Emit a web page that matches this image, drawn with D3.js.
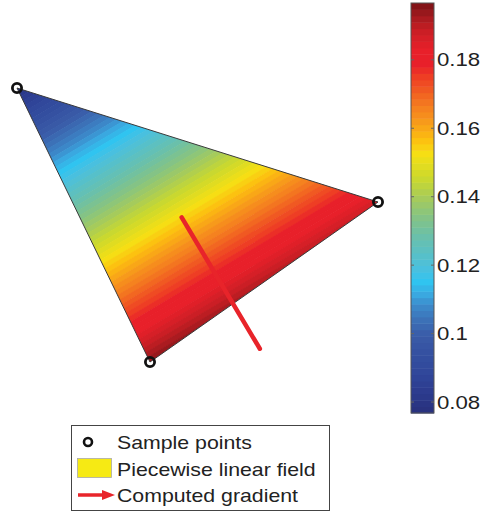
<!DOCTYPE html>
<html><head><meta charset="utf-8">
<script src="https://cdn.jsdelivr.net/npm/d3@7"></script>
<style>
html,body{margin:0;padding:0;background:#fff;}
svg{display:block;font-family:"Liberation Sans",Arial,Helvetica,sans-serif;}
</style></head>
<body>
<svg id="chart" width="483" height="516"></svg>
<script>
// ---- data ----
const sampleX = [0, 3.61, 1.33];
const sampleY = [2.74, 1.60, 0];
const sampleValue = [0.079, 0.187, 0.195];
const colorDomain = [0.0768, 0.1966];
const colorTicks = [0.08, 0.1, 0.12, 0.14, 0.16, 0.18];
const cmapValues = [0.0768,0.0822,0.0880,0.0939,0.0997,0.1041,0.1085,0.1114,0.1152,0.1187,0.1231,0.1289,0.1347,0.1400,0.1450,0.1523,0.1566,0.1625,0.1669,0.1712,0.1756,0.1785,0.1829,0.1888,0.1931,0.1966];
const cmapColors = ["#28307c","#2c3a8c","#30469a","#3450a0","#3a5ca8","#3c72b8","#3c8ccc","#3aa8e0","#30c4f0","#48c0e0","#58c0c8","#6cc0a8","#88c480","#a8cc58","#c8d830","#f5e014","#fcc010","#f7961c","#f47a20","#f05a22","#ee3a24","#e8202a","#e8202a","#c81e24","#a01a1e","#7a1216"];
const legendLabels = ["Sample points", "Piecewise linear field", "Computed gradient"];
const legendPatchColor = "#f6ea14";
const nColors = 64;
const quiverScale = 40;

const svg = d3.select("#chart");
const x = d3.scaleLinear().domain([0, 3.61]).range([17, 378]);
const y = d3.scaleLinear().domain([0, 2.74]).range([362, 88]);

const cmap = d3.scaleLinear().domain(cmapValues).range(cmapColors).interpolate(d3.interpolateRgb);
const step = (colorDomain[1]-colorDomain[0])/nColors;
const bandColors = d3.range(nColors).map(i => cmap(colorDomain[0] + (i+0.5)*step));

// ---- field geometry (pixel space) ----
const P = sampleX.map((d,i) => [x(d), y(sampleY[i])]);
function solveGrad(pts, vals){
  const ax = pts[1][0]-pts[0][0], ay = pts[1][1]-pts[0][1];
  const bx = pts[2][0]-pts[0][0], by = pts[2][1]-pts[0][1];
  const d1 = vals[1]-vals[0], d2 = vals[2]-vals[0];
  const det = ax*by - ay*bx;
  return [(d1*by - ay*d2)/det, (ax*d2 - bx*d1)/det];
}
const gp = solveGrad(P, sampleValue);
const gmag = Math.hypot(gp[0], gp[1]);
const u = [gp[0]/gmag, gp[1]/gmag];
const n = [-u[1], u[0]];
const L = 1000;
function at(l){ const t = (l - sampleValue[0])/gmag; return [P[0][0]+u[0]*t, P[0][1]+u[1]*t]; }

const defs = svg.append("defs");
defs.append("clipPath").attr("id","tri").append("polygon")
  .attr("points", P.map(p => p.join(",")).join(" "));

const field = svg.append("g").attr("clip-path","url(#tri)");
const bands = d3.range(nColors).map(i => ({lo: colorDomain[0]+i*step, hi: colorDomain[0]+(i+1)*step, c: bandColors[i]}));
const fieldBands = bands.map(d => Object.assign({}, d));
fieldBands[0].lo -= 1; fieldBands[nColors-1].hi += 1;
field.selectAll("polygon").data(fieldBands).join("polygon")
  .attr("points", d => {
    const a = at(d.lo), b = at(d.hi);
    const ov = 0.6;
    const b2 = [b[0]+u[0]*ov, b[1]+u[1]*ov];
    return [[a[0]-n[0]*L, a[1]-n[1]*L],[a[0]+n[0]*L, a[1]+n[1]*L],[b2[0]+n[0]*L, b2[1]+n[1]*L],[b2[0]-n[0]*L, b2[1]-n[1]*L]].map(p=>p.join(",")).join(" ");
  })
  .attr("fill", d => d.c);

svg.append("polygon").attr("points", P.map(p => p.join(",")).join(" "))
  .attr("fill","none").attr("stroke","#3a3a3a").attr("stroke-width",1);

// ---- gradient arrow (data space) ----
const gd = solveGrad(sampleX.map((d,i)=>[d, sampleY[i]]), sampleValue);
const cx = d3.mean(sampleX), cy = d3.mean(sampleY);
const ex = cx + quiverScale*gd[0], ey = cy + quiverScale*gd[1];
svg.append("line").attr("x1", x(cx)).attr("y1", y(cy)).attr("x2", x(ex)).attr("y2", y(ey))
  .attr("stroke","#e8242a").attr("stroke-width",4.5).attr("stroke-linecap","round");

// ---- sample points ----
svg.selectAll("circle.sp").data(sampleX).join("circle").attr("class","sp")
  .attr("cx", (d)=>x(d)).attr("cy", (d,i)=>y(sampleY[i])).attr("r",4.6)
  .attr("fill","none").attr("stroke","#111").attr("stroke-width",2.8);

// ---- colorbar ----
const cb = {x0: 411, w: 23};
const cy2 = d3.scaleLinear().domain(colorDomain).range([413, 3]);
const cbg = svg.append("g");
cbg.selectAll("rect").data(bands).join("rect")
  .attr("x", cb.x0).attr("width", cb.w)
  .attr("y", d => cy2(d.hi))
  .attr("height", d => cy2(d.lo) - cy2(d.hi) + 0.5)
  .attr("fill", d => d.c);
cbg.append("rect").attr("x", cb.x0).attr("y", 3).attr("width", cb.w).attr("height", 410)
  .attr("fill","none").attr("stroke","#555").attr("stroke-width",1);
const tk = cbg.selectAll("g.tk").data(colorTicks).join("g").attr("class","tk")
  .attr("transform", d => `translate(0,${cy2(d)})`);
tk.append("line").attr("x1", cb.x0).attr("x2", cb.x0+3).attr("stroke","#666").attr("stroke-width",1);
tk.append("line").attr("x1", cb.x0+cb.w-3).attr("x2", cb.x0+cb.w).attr("stroke","#666").attr("stroke-width",1);
tk.append("text").attr("class","cbl").attr("x", 437).attr("dy","0.36em").attr("font-size",18.5).attr("fill","#222")
  .text(d => d3.format("")(+d.toFixed(2)));

// ---- legend ----
const lg = svg.append("g");
lg.append("rect").attr("x",71.5).attr("y",425.5).attr("width",258).attr("height",85)
  .attr("fill","#fff").attr("stroke","#444").attr("stroke-width",1);
lg.append("circle").attr("cx",88).attr("cy",442).attr("r",4).attr("fill","none").attr("stroke","#111").attr("stroke-width",2.6);
lg.append("rect").attr("x",77.5).attr("y",458.5).attr("width",34).attr("height",19)
  .attr("fill", legendPatchColor).attr("stroke","#aaa").attr("stroke-width",0.8);
lg.append("line").attr("x1",78).attr("y1",495).attr("x2",105).attr("y2",495).attr("stroke","#e8242a").attr("stroke-width",3.5);
lg.append("polygon").attr("points","102,490 115,495 102,500").attr("fill","#e8242a");
lg.selectAll("text").data(legendLabels).join("text").attr("class","lgl")
  .attr("x",117).attr("y",(d,i)=>449 + i*26.5).attr("font-size",18.5).attr("fill","#222").text(d=>d);

// horizontal stretch of text as in reference
function stretch(sel, k){
  sel.each(function(){
    const w = this.getComputedTextLength();
    d3.select(this).attr("textLength", w*k).attr("lengthAdjust","spacingAndGlyphs");
  });
}
stretch(svg.selectAll("text.cbl"), 1.2);
stretch(svg.selectAll("text.lgl"), 1.15);
</script>
</body></html>
